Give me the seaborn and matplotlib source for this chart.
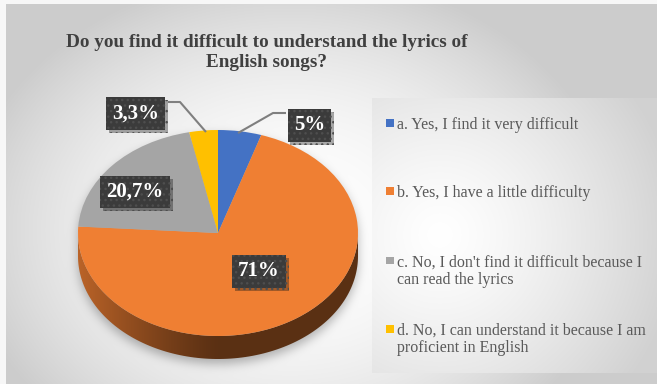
import numpy as np
import matplotlib
matplotlib.use("Agg")
import matplotlib.pyplot as plt
import seaborn as sns
from matplotlib.patches import Polygon, Rectangle
from matplotlib import patheffects as pe

# ---- data -------------------------------------------------------------
title_lines = ["Do you find it difficult to understand the lyrics of",
               "English songs?"]
categories = [
    "a. Yes, I find it very difficult",
    "b. Yes, I have a little difficulty",
    "c. No, I don't find it difficult because I\ncan read the lyrics",
    "d. No, I can understand it because I am\nproficient in English",
]
shares = [5, 71, 20.7, 3.3]
slice_colors = ["#4472C4", "#EF7F33", "#A5A5A5", "#FFC000"]

sns.set_theme(style="white")
palette = sns.color_palette(slice_colors)
SERIF = ["Liberation Serif", "DejaVu Serif"]

W, H = 657, 384
fig = plt.figure(figsize=(W / 100, H / 100), dpi=100)

# ---- pie geometry (pixels) -------------------------------------------
cx, cy, rx, ry, depth = 218, 233, 140, 103, 23

# ---- background: chart area, legend panel, soft pie shadow -----------
yy, xx = np.mgrid[0:H, 0:W] + 0.5


def radial(cxg, cyg, Rx, Ry, lo, p):
    dd = np.clip(np.hypot((xx - cxg) / Rx, (yy - cyg) / Ry), 0, 1) ** p
    return 1.0 - (1.0 - lo) * dd


bg = np.full((H, W), 0.97)
chart = radial(290, 230, 330, 260, 0.80, 2.0)
inside = (xx >= 6) & (yy >= 4)
bg[inside] = chart[inside]

# pie drop shadow
mask = ((((xx - cx) / rx) ** 2 + ((yy - cy) / ry) ** 2) <= 1) | \
       ((((xx - cx) / rx) ** 2 + ((yy - cy - depth) / ry) ** 2) <= 1) | \
       ((np.abs(xx - cx) <= rx) & (yy >= cy) & (yy <= cy + depth))
mask = np.roll(mask.astype(float), 5, axis=0)
sig = 5.0
k = np.exp(-0.5 * (np.arange(-16, 17) / sig) ** 2)
k /= k.sum()
blur = np.apply_along_axis(lambda r: np.convolve(r, k, mode="same"), 1, mask)
blur = np.apply_along_axis(lambda c: np.convolve(c, k, mode="same"), 0, blur)
bg = bg * (1 - 0.28 * blur)

# legend panel
panel = (xx >= 372) & (yy >= 98) & (yy <= 373)
pan = radial(440, 235, 240, 240, 0.82, 1.3)
bg[panel] = pan[panel]

bgax = fig.add_axes([0, 0, 1, 1])
bgax.imshow(np.dstack([bg, bg, bg]), extent=(0, W, H, 0), interpolation="bilinear")
bgax.set_xlim(0, W)
bgax.set_ylim(H, 0)
bgax.axis("off")

# ---- pie --------------------------------------------------------------
x0, x1, y0, y1 = 40, 400, 100, 380
ax = fig.add_axes([x0 / W, 1 - y1 / H, (x1 - x0) / W, (y1 - y0) / H])
wedges, _ = ax.pie(shares, colors=palette, startangle=90, counterclock=False,
                   wedgeprops=dict(linewidth=0))
ax.set_aspect("auto")
ax.set_xlim((x0 - cx) / rx, (x1 - cx) / rx)
ax.set_ylim(-(y1 - cy) / ry, (cy - y0) / ry)
ax.axis("off")
ax.patch.set_alpha(0)

# visible side wall of each slice (front half of the disc)
d = depth / ry
for w, col in zip(wedges, palette):
    t1, t2 = w.theta1, w.theta2
    for kk in (-1, 0, 1):
        a = max(t1, 180 + 360 * kk)
        b = min(t2, 360 + 360 * kk)
        if b <= a:
            continue
        t = np.radians(np.linspace(a, b, 120))
        top = np.column_stack([np.cos(t), np.sin(t)])
        bot = np.column_stack([np.cos(t), np.sin(t) - d])[::-1]
        poly = Polygon(np.vstack([top, bot]), closed=True, fc="none", ec="none")
        ax.add_patch(poly)
        gx = np.linspace(-1, 1, 300)
        f = 0.38 + 0.40 * np.clip(-gx, 0, 1) ** 1.2
        rgb = np.array(col)[None, :] * f[:, None]
        img = np.repeat(rgb[None, :, :], 2, axis=0)
        im = ax.imshow(img, extent=(-1, 1, -1 - d, 0.2), aspect="auto",
                       zorder=0.5, interpolation="bilinear")
        im.set_clip_path(poly)
for w in wedges:
    w.set_zorder(1)

# ---- overlay: title, data labels, leader lines, legend ---------------
ov = fig.add_axes([0, 0, 1, 1])
ov.set_xlim(0, W)
ov.set_ylim(H, 0)
ov.axis("off")
ov.patch.set_alpha(0)

ov.text(267, 47, title_lines[0], ha="center", va="baseline", family=SERIF,
        weight="bold", size=13.8, color="#404040")
ov.text(267, 67, title_lines[1], ha="center", va="baseline", family=SERIF,
        weight="bold", size=13.8, color="#404040")

# leader lines for the two thin slices
ov.plot([286, 273, 238], [113, 113, 133], color="#7f7f7f", lw=1.5,
        solid_capstyle="butt")
ov.plot([168, 180, 206], [102, 102, 132], color="#7f7f7f", lw=1.5,
        solid_capstyle="butt")

label_pos = [(309.5, 125.5), (259, 271.5), (135, 192), (135.5, 113.5)]
for v, (lx, ly) in zip(shares, label_pos):
    txt = f"{v:g}%".replace(".", ",")
    t = ov.text(lx, ly, txt, ha="center", va="center", family=SERIF,
                weight="bold", size=15, color="white",
                bbox=dict(boxstyle="square,pad=0.3", fc="#3b3b3b",
                          ec="#4e4e4e", lw=0, hatch="..."))
    t.get_bbox_patch().set_path_effects(
        [pe.SimplePatchShadow(offset=(2, -2), alpha=0.35), pe.Normal()])

# legend entries
row_baselines = [[129], [197], [266.5, 284], [335, 352.5]]
for cat, col, bases in zip(categories, palette, row_baselines):
    ov.add_patch(Rectangle((386, bases[0] - 10), 7.5, 7.5, fc=col, ec="none"))
    for line, yb in zip(cat.split("\n"), bases):
        ov.text(397, yb, line, ha="left", va="baseline", family=SERIF,
                size=11.5, color="#595959")

fig.savefig("out.png", dpi=100)
